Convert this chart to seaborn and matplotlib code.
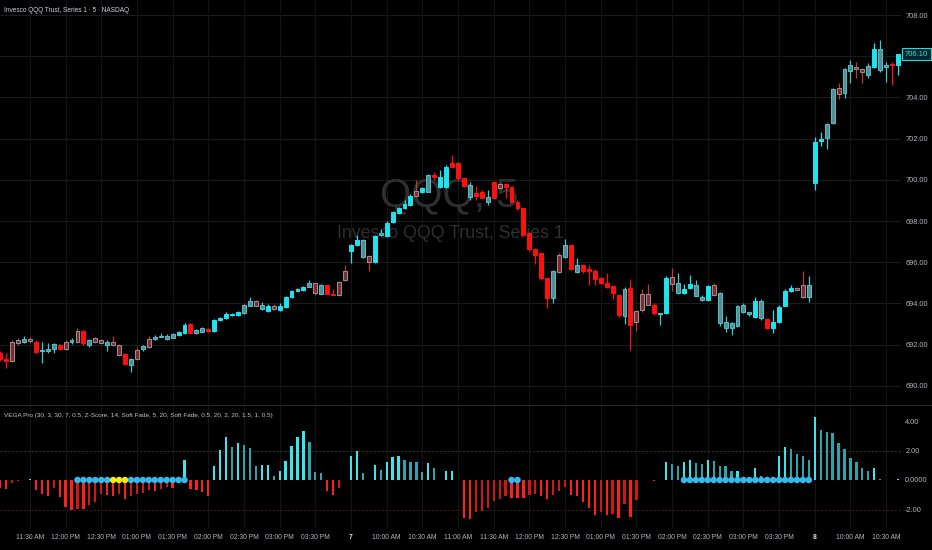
import numpy as np
import pandas as pd
import matplotlib
matplotlib.use("Agg")
import matplotlib.pyplot as plt
import matplotlib.transforms as mtransforms
from matplotlib.lines import Line2D
import seaborn as sns

# ---------------- data ----------------
candle_tone = list(
    "rrmmtmrttt" "rmtmrtmmtm" "mrtmtmtttt" "ccrttrcccc"
    "cttmtcmccc" "cctmtrrmmc" "ctmctccccc" "mctrccrrrt"
    "rrtrmrrrrr" "rrrtmtrtrr" "rrrrrtrmmm" "rtcmtcctt" "c"
    "mttttttctr" "ccccmmtcct" "tmttmmtctt" "rc"
)

open_px = [
    691.60, 691.30, 692.15, 692.20, 692.12, 692.25, 692.15, 691.68, 691.70, 691.79,
    692.00, 692.14, 692.14, 692.67, 692.67, 692.00, 692.30, 692.20, 692.00, 692.14,
    692.00, 691.54, 691.00, 691.74, 691.77, 692.26, 692.27, 692.38, 692.27, 692.32,
    692.45, 692.55, 693.00, 692.58, 692.63, 692.75, 692.65, 693.17, 693.28, 693.46,
    693.44, 693.55, 693.89, 694.13, 693.71, 693.65, 693.89, 693.68, 693.84, 694.30,
    694.62, 694.65, 694.81, 694.98, 694.46, 694.88, 694.46, 695.04, 695.57,
    696.54, 696.84, 696.26, 696.30, 696.02, 697.30, 697.27, 697.97, 698.40, 698.62,
    698.78, 699.23, 699.59, 699.42, 700.12, 700.12, 699.67, 700.64, 700.80, 700.07,
    699.75, 699.21, 699.42, 699.18, 699.10, 699.78, 699.78, 699.67, 698.94, 698.62,
    697.40, 696.64, 696.43, 695.22, 694.25, 696.35, 696.24, 696.83, 695.54, 695.86,
    695.67, 695.59, 695.25, 694.97, 694.86, 694.40, 693.40, 694.73, 693.65, 694.48,
    694.48, 693.92, 693.50, 693.55, 695.27, 694.49, 694.49, 694.73, 694.37, 694.17,
    694.17, 694.89, 693.03, 692.82, 692.82, 692.91, 693.60, 693.48, 693.35, 693.28,
    693.23, 692.79, 693.11, 693.87, 694.62, 694.73, 694.89, 694.30,
    699.86, 701.90, 702.01, 702.74, 704.44, 704.23, 705.28, 705.50, 705.38, 705.09,
    705.49, 705.33, 705.46, 705.62, 705.57,
]
high_px = [
    691.70, 691.60, 692.20, 692.30, 692.40, 692.35, 692.20, 692.14, 692.10, 692.10,
    692.05, 692.20, 692.30, 692.80, 692.70, 692.25, 692.35, 692.25, 692.20, 692.40,
    692.05, 691.60, 691.35, 691.90, 692.00, 692.40, 692.45, 692.55, 692.50, 692.55,
    692.65, 693.05, 693.05, 692.75, 692.85, 692.80, 693.25, 693.35, 693.60, 693.55,
    693.65, 693.95, 694.30, 694.15, 694.05, 693.95, 693.95, 694.00, 694.35, 694.65,
    694.75, 694.85, 695.15, 695.00, 694.95, 694.90, 694.70, 695.10, 695.85,
    696.90, 697.30, 697.15, 696.35, 697.30, 697.60, 698.00, 698.50, 698.70, 699.00,
    699.30, 700.00, 699.65, 700.30, 700.40, 700.50, 700.70, 701.20, 700.85, 700.10,
    699.90, 699.70, 699.50, 699.50, 699.95, 699.85, 699.85, 699.70, 699.00, 698.65,
    697.45, 696.70, 696.50, 695.30, 695.60, 696.45, 697.15, 696.85, 696.20, 695.90,
    695.86, 695.65, 695.30, 695.50, 694.90, 694.45, 694.80, 695.20, 693.70, 694.70,
    694.95, 694.00, 693.55, 695.35, 695.70, 695.50, 694.95, 695.40, 695.15, 694.40,
    694.90, 695.00, 694.55, 693.40, 693.10, 693.90, 694.00, 693.60, 694.30, 694.20,
    693.30, 693.70, 693.90, 694.70, 694.90, 694.80, 695.55, 695.35,
    702.10, 702.30, 702.75, 704.45, 704.70, 705.45, 705.80, 705.70, 705.45, 705.65,
    706.66, 706.79, 705.70, 705.70, 706.10,
]
low_px = [
    691.20, 690.85, 691.15, 692.00, 692.10, 692.10, 691.60, 691.10, 691.60, 691.60,
    691.75, 691.75, 692.05, 692.10, 692.00, 691.90, 692.10, 692.05, 691.70, 691.95,
    691.45, 691.00, 690.68, 691.25, 691.70, 691.85, 692.20, 692.35, 692.22, 692.30,
    692.40, 692.50, 692.55, 692.50, 692.60, 692.60, 692.60, 693.15, 693.25, 693.40,
    693.40, 693.50, 693.85, 693.85, 693.70, 693.60, 693.70, 693.65, 693.80, 694.28,
    694.60, 694.60, 694.80, 694.40, 694.45, 694.45, 694.40, 694.38, 695.10,
    695.96, 696.80, 696.20, 695.55, 695.98, 697.25, 697.20, 697.90, 698.35, 698.60,
    698.75, 699.15, 699.35, 699.40, 700.00, 699.60, 699.60, 700.60, 700.00, 699.65,
    699.00, 699.00, 699.10, 698.80, 699.05, 699.55, 699.10, 698.90, 698.55, 697.25,
    696.55, 695.90, 695.15, 693.80, 694.00, 695.50, 696.20, 695.60, 695.50, 695.50,
    694.90, 694.90, 694.95, 694.75, 694.20, 693.35, 693.00, 691.74, 692.65, 693.60,
    693.90, 693.45, 692.95, 693.50, 694.60, 694.45, 694.45, 694.70, 694.35, 694.10,
    694.10, 694.35, 692.90, 692.60, 692.45, 692.85, 693.55, 693.40, 693.30, 693.20,
    692.75, 692.55, 693.05, 693.85, 694.55, 694.60, 694.25, 694.05,
    699.50, 701.65, 701.50, 702.70, 703.90, 703.95, 704.70, 704.95, 704.70, 704.95,
    705.45, 705.25, 704.75, 704.60, 705.10,
]
close_px = [
    691.30, 691.20, 691.20, 692.10, 692.27, 692.18, 691.65, 691.72, 691.78, 692.03,
    691.80, 691.79, 692.20, 692.14, 692.06, 692.20, 692.14, 692.10, 692.14, 691.98,
    691.50, 691.05, 691.30, 691.32, 691.95, 691.90, 692.37, 692.42, 692.43, 692.50,
    692.60, 692.95, 692.58, 692.70, 692.79, 692.65, 693.20, 693.28, 693.47, 693.50,
    693.60, 693.92, 694.13, 693.89, 693.92, 693.89, 693.71, 693.89, 694.30, 694.62,
    694.68, 694.80, 695.00, 694.49, 694.88, 694.46, 694.42, 694.40, 695.13,
    696.83, 697.10, 697.10, 696.02, 697.27, 697.43, 697.92, 698.45, 698.64, 698.83,
    699.23, 699.47, 699.42, 700.23, 700.23, 699.67, 700.64, 700.80, 700.07, 699.71,
    699.18, 699.37, 699.13, 698.94, 699.88, 699.62, 699.67, 698.94, 698.62, 697.32,
    696.63, 696.35, 695.22, 694.25, 695.57, 695.54, 696.83, 695.65, 695.86, 695.57,
    695.59, 695.18, 695.00, 694.81, 694.52, 693.43, 694.68, 692.95, 693.08, 693.68,
    693.92, 693.51, 693.54, 695.22, 694.94, 694.97, 694.68, 694.94, 694.89, 694.33,
    694.84, 694.40, 694.49, 693.11, 693.03, 693.86, 693.92, 693.56, 694.11, 694.13,
    692.79, 693.08, 693.84, 694.62, 694.76, 694.65, 694.30, 694.89,
    701.85, 701.97, 702.69, 704.39, 704.17, 705.38, 705.56, 705.38, 705.22, 705.52,
    706.35, 706.33, 705.57, 705.58, 706.10,
]

vega = [
    -0.57, -0.64, -0.23, -0.05, -0.03, 0.05, -0.69, -0.92, -1.10, -0.57,
    -1.15, -1.84, -2.02, -1.95, -1.95, -1.72, -1.49, -0.92, -1.03, -1.10,
    -0.92, -1.26, -1.10, -0.97, -0.87, -0.69, -0.74, -0.64, -0.50, -0.57,
    -0.05, 1.38, -0.64, -0.69, -0.80, -1.10, 0.97, 2.02, 2.94, 2.25,
    2.53, 2.39, 2.18, 0.92, 1.03, 1.03, 0.28, 0.62, 1.29, 2.30,
    2.94, 3.31, 2.57, 0.57, 0.50, -0.74, -1.03, -0.57, -0.03,
    1.66, 1.95, 0.46, 0.03, 1.03, 0.69, 1.20, 1.56, 1.61, 1.33,
    1.24, 1.20, 0.57, 1.15, 0.80, 0.02, 0.62, 0.64, 0.02, -2.57,
    -2.64, -2.18, -2.07, -1.89, -1.45, -1.31, -1.08, -1.22, -1.22, -1.22,
    -0.99, -0.92, -1.08, -1.26, -1.03, -0.74, -0.50, -1.03, -1.10, -1.49,
    -1.91, -2.34, -2.18, -2.37, -2.30, -2.57, -1.61, -2.53, -1.33, -0.03,
    -0.02, -0.05, 0.00, 1.24, 1.10, 0.97, 1.20, 1.38, 1.15, 1.10,
    1.33, 1.26, 0.97, 0.92, 0.64, 0.64, 0.05, 0.10, 0.80, 0.28,
    0.00, 0.00, 1.61, 2.25, 2.11, 1.79, 1.66, 1.38,
    4.25, 3.40, 3.26, 3.17, 2.53, 2.07, 1.49, 1.22, 0.80, 0.64,
    0.80, 0.10, 0.02, 0.00, 0.05,
]

dot_bars = list(range(13, 32)) + [86, 87] + list(range(115, 137))
yellow_dot_bars = [19, 20, 21]

tick_bars = [5, 11, 17, 23, 29, 35, 41, 47, 53, 59, 65, 71, 77, 83, 89, 95,
             101, 107, 113, 119, 125, 131, 137, 143, 149]
tick_labels = ["11:30 AM", "12:00 PM", "12:30 PM", "01:00 PM", "01:30 PM",
               "02:00 PM", "02:30 PM", "03:00 PM", "03:30 PM", "7",
               "10:00 AM", "10:30 AM", "11:00 AM", "11:30 AM", "12:00 PM",
               "12:30 PM", "01:00 PM", "01:30 PM", "02:00 PM", "02:30 PM",
               "03:00 PM", "03:30 PM", "8", "10:00 AM", "10:30 AM"]
price_ticks = [690, 692, 694, 696, 698, 700, 702, 704, 706, 708]
vega_ticks = [4, 2, 0, -2]
vega_tick_labels = ["4.00", "2.00", "0.0000", "-2.00"]
last_price = 706.10
title_text = "Invesco QQQ Trust, Series 1 · 5 · NASDAQ"
indicator_text = ("VEGA Pro (30, 3, 30, 7, 0.5, Z-Score, 14, Soft Fade, 5, 20, "
                  "Soft Fade, 0.5, 20, 2, 20, 1.5, 1, 0.5)")

# ---------------- style ----------------
sns.set_theme(style="dark", rc={
    "axes.facecolor": "black", "figure.facecolor": "black",
    "axes.edgecolor": "black", "savefig.facecolor": "black",
    "patch.edgecolor": "none",
})
plt.rcParams["font.family"] = ["Liberation Sans", "DejaVu Sans"]

BG = "black"
TXT = "#b2b5be"
GRID_H = "#1b1b1b"
GRID_V = "#141414"

tone_face = {"c": "#1fe4f0", "r": "#ff1010", "t": "#5b8a90", "m": "#8a272c"}
tone_edge = {"c": "#1fe4f0", "r": "#ff1010", "t": "#45c6d0", "m": "#8a9a9d"}
tone_wick = {"c": "#1fe4f0", "r": "#ff1010", "t": "#45c6d0", "m": "#c03838"}

W, H = 932, 550
fig = plt.figure(figsize=(W / 100, H / 100), dpi=100)


def px_box(x0, y0, x1, y1):
    return [x0 / W, 1 - y1 / H, (x1 - x0) / W, (y1 - y0) / H]


ax = fig.add_axes(px_box(0, 0, 901, 404))
ax2 = fig.add_axes(px_box(0, 406, 901, 528))

n = len(close_px)
idx = np.arange(n)
o = np.array(open_px)
c = np.array(close_px)
hi = np.array(high_px)
lo = np.array(low_px)
tones = list(candle_tone)[:n]

# ---------------- price panel ----------------
body_bot = np.minimum(o, c)
body_h = np.maximum(np.abs(c - o), 0.045)
ax.vlines(idx, lo, hi, colors=[tone_wick[t] for t in tones], linewidth=0.9, zorder=3)
ax.bar(idx, body_h, bottom=body_bot, width=0.66,
       color=[tone_face[t] for t in tones],
       edgecolor=[tone_edge[t] for t in tones], linewidth=0.7, zorder=4)

ax.text(449 / 901, (404 - 206) / 404, "QQQ, 5", transform=ax.transAxes,
        ha="center", va="baseline", fontsize=29, color="#2f2f2f", zorder=1)
ax.text(450 / 901, (404 - 238) / 404, "Invesco QQQ Trust, Series 1",
        transform=ax.transAxes, ha="center", va="baseline", fontsize=12.8,
        color="#2f2f2f", zorder=1)

ax.set_xlim(-0.03, 151.5)
ax.set_ylim(708 - 389 / 20.6, 708 + 15 / 20.6)
ax.set_yticks(price_ticks)
# the 706.00 label is hidden by the last-price tag in the reference
ax.set_yticklabels(["" if v == 706 else f"{v:.2f}" for v in price_ticks])
ax.yaxis.tick_right()
ax.set_xticks(tick_bars)
ax.set_xticklabels([])
ax.tick_params(axis="y", length=0, pad=3, labelsize=5.3, colors=TXT)
ax.tick_params(axis="x", length=0)
ax.grid(False)
for v in price_ticks:
    ax.axhline(v, color=GRID_H, lw=0.8, zorder=0)
for b in tick_bars:
    ax.axvline(b, color=GRID_V, lw=0.8, zorder=0)
for s in ax.spines.values():
    s.set_visible(False)
ax.set_xlabel("")
ax.set_ylabel("")

trans = mtransforms.blended_transform_factory(ax.transAxes, ax.transData)
ax.text(1.0 + 4 / 901, last_price, f"{last_price:.2f}", transform=trans,
        ha="left", va="center", fontsize=5.4, color="#2ee3ee", zorder=6,
        bbox=dict(boxstyle="square,pad=0.38", fc="#05262a", ec="#2ad6e2", lw=0.8),
        clip_on=False)

# ---------------- indicator panel ----------------
vals = np.array(vega)
prev = np.concatenate([[vals[0]], vals[:-1]])
shade = np.where(vals >= 0,
                 np.where(vals >= prev, "up_strong", "up_weak"),
                 np.where(vals <= prev, "dn_strong", "dn_weak"))
shade_colors = {"up_strong": "#3ce4ee", "up_weak": "#2aa5ad",
                "dn_strong": "#ff1f1f", "dn_weak": "#d41515"}
df = pd.DataFrame({"bar": idx, "vega": vals, "shade": shade})
sns.barplot(data=df, x="bar", y="vega", hue="shade", palette=shade_colors,
            native_scale=True, dodge=False, width=0.38, legend=False,
            saturation=1, errorbar=None, linewidth=0, edgecolor="none",
            ax=ax2, zorder=3)

dots = pd.DataFrame({"bar": dot_bars, "level": 0.0,
                     "kind": ["yellow" if b in yellow_dot_bars else "blue" for b in dot_bars]})
sns.scatterplot(data=dots, x="bar", y="level", hue="kind",
                palette={"blue": "#35b8ec", "yellow": "#f7ea1c"},
                s=22, linewidth=0, legend=False, ax=ax2, zorder=5)

ax2.axhline(2, color="#2c3a3b", lw=0.7, ls=(0, (2, 2)), zorder=1)
ax2.axhline(-2, color="#3d2225", lw=0.7, ls=(0, (2, 2)), zorder=1)
for b in tick_bars:
    ax2.axvline(b, color=GRID_V, lw=0.8, zorder=0)

ax2.set_xlim(-0.03, 151.5)
ax2.set_ylim(-48 / 14.75, 74 / 14.75)
ax2.set_yticks(vega_ticks)
ax2.set_yticklabels(vega_tick_labels)
ax2.yaxis.tick_right()
ax2.set_xticks(tick_bars)
ax2.set_xticklabels(tick_labels)
ax2.tick_params(axis="y", length=0, pad=3, labelsize=5.3, colors=TXT)
ax2.tick_params(axis="x", length=0, pad=4.6, labelsize=4.9, colors=TXT)
for lab in ax2.get_xticklabels():
    if lab.get_text() in ("7", "8"):
        lab.set_fontweight("bold")
        lab.set_color("#e0e3ea")
ax2.grid(False)
for s in ax2.spines.values():
    s.set_visible(False)
ax2.set_xlabel("")
ax2.set_ylabel("")

# ---------------- frame texts / separator ----------------
fig.add_artist(Line2D([0, 1], [1 - 405 / H] * 2, color="#2a2a2a", lw=0.8))
fig.text(4 / W, 1 - 11 / H, title_text, ha="left", va="center",
         fontsize=4.7, color="#d1d4dc")
fig.text(4 / W, 1 - 416 / H, indicator_text, ha="left", va="center",
         fontsize=4.6, color="#c3c6ce")

fig.savefig("out.png", dpi=100, facecolor=BG)
